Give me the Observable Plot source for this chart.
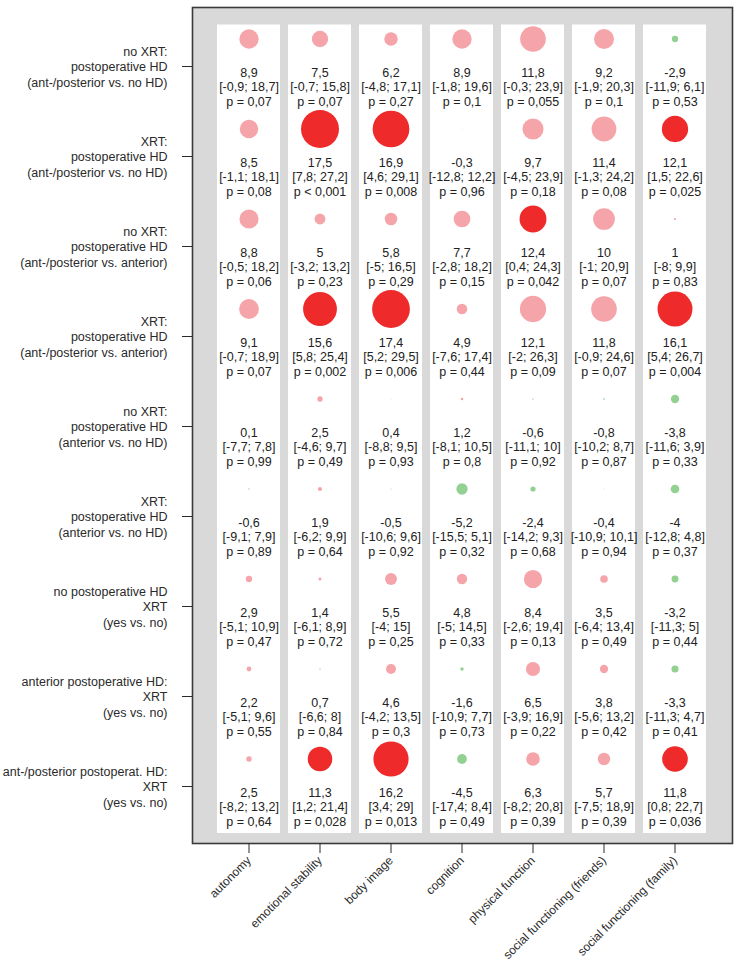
<!DOCTYPE html>
<html>
<head>
<meta charset="utf-8">
<script src="https://cdn.jsdelivr.net/npm/d3@7"></script>
<script src="https://cdn.jsdelivr.net/npm/@observablehq/plot@0.6"></script>
<style>
  html, body { margin: 0; padding: 0; background: #fff; }
</style>
</head>
<body>
<div id="chart"></div>
<script>
// Outcome categories (columns)
const categories = ["autonomy", "emotional stability", "body image", "cognition",
  "physical function", "social functioning (friends)", "social functioning (family)"];

// Comparisons (rows)
const comparisons = [
  "no XRT:\npostoperative HD\n(ant-/posterior vs. no HD)",
  "XRT:\npostoperative HD\n(ant-/posterior vs. no HD)",
  "no XRT:\npostoperative HD\n(ant-/posterior vs. anterior)",
  "XRT:\npostoperative HD\n(ant-/posterior vs. anterior)",
  "no XRT:\npostoperative HD\n(anterior vs. no HD)",
  "XRT:\npostoperative HD\n(anterior vs. no HD)",
  "no postoperative HD\nXRT\n(yes vs. no)",
  "anterior postoperative HD:\nXRT\n(yes vs. no)",
  "ant-/posterior postoperat. HD:\nXRT\n(yes vs. no)"
];

// Effect estimates (one row per comparison, one value per category)
const estimates = [
  [8.9, 7.5, 6.2, 8.9, 11.8, 9.2, -2.9],
  [8.5, 17.5, 16.9, -0.3, 9.7, 11.4, 12.1],
  [8.8, 5, 5.8, 7.7, 12.4, 10, 1],
  [9.1, 15.6, 17.4, 4.9, 12.1, 11.8, 16.1],
  [0.1, 2.5, 0.4, 1.2, -0.6, -0.8, -3.8],
  [-0.6, 1.9, -0.5, -5.2, -2.4, -0.4, -4],
  [2.9, 1.4, 5.5, 4.8, 8.4, 3.5, -3.2],
  [2.2, 0.7, 4.6, -1.6, 6.5, 3.8, -3.3],
  [2.5, 11.3, 16.2, -4.5, 6.3, 5.7, 11.8]
];

// Lower confidence limits
const ciLower = [
  [-0.9, -0.7, -4.8, -1.8, -0.3, -1.9, -11.9],
  [-1.1, 7.8, 4.6, -12.8, -4.5, -1.3, 1.5],
  [-0.5, -3.2, -5, -2.8, 0.4, -1, -8],
  [-0.7, 5.8, 5.2, -7.6, -2, -0.9, 5.4],
  [-7.7, -4.6, -8.8, -8.1, -11.1, -10.2, -11.6],
  [-9.1, -6.2, -10.6, -15.5, -14.2, -10.9, -12.8],
  [-5.1, -6.1, -4, -5, -2.6, -6.4, -11.3],
  [-5.1, -6.6, -4.2, -10.9, -3.9, -5.6, -11.3],
  [-8.2, 1.2, 3.4, -17.4, -8.2, -7.5, 0.8]
];

// Upper confidence limits
const ciUpper = [
  [18.7, 15.8, 17.1, 19.6, 23.9, 20.3, 6.1],
  [18.1, 27.2, 29.1, 12.2, 23.9, 24.2, 22.6],
  [18.2, 13.2, 16.5, 18.2, 24.3, 20.9, 9.9],
  [18.9, 25.4, 29.5, 17.4, 26.3, 24.6, 26.7],
  [7.8, 9.7, 9.5, 10.5, 10, 8.7, 3.9],
  [7.9, 9.9, 9.6, 5.1, 9.3, 10.1, 4.8],
  [10.9, 8.9, 15, 14.5, 19.4, 13.4, 5],
  [9.6, 8, 13.5, 7.7, 16.9, 13.2, 4.7],
  [13.2, 21.4, 29, 8.4, 20.8, 18.9, 22.7]
];

// p-values (as printed)
const pValues = [
  ["0,07", "0,07", "0,27", "0,1", "0,055", "0,1", "0,53"],
  ["0,08", "< 0,001", "0,008", "0,96", "0,18", "0,08", "0,025"],
  ["0,06", "0,23", "0,29", "0,15", "0,042", "0,07", "0,83"],
  ["0,07", "0,002", "0,006", "0,44", "0,09", "0,07", "0,004"],
  ["0,99", "0,49", "0,93", "0,8", "0,92", "0,87", "0,33"],
  ["0,89", "0,64", "0,92", "0,32", "0,68", "0,94", "0,37"],
  ["0,47", "0,72", "0,25", "0,33", "0,13", "0,49", "0,44"],
  ["0,55", "0,84", "0,3", "0,73", "0,22", "0,42", "0,41"],
  ["0,64", "0,028", "0,013", "0,49", "0,39", "0,39", "0,036"]
];

const fmt = v => String(v).replace(".", ",");
const pNum = s => s.startsWith("<") ? 0.0005 : +s.replace(",", ".");

const cells = [];
comparisons.forEach((row, i) => {
  categories.forEach((cat, j) => {
    const v = estimates[i][j];
    const p = pValues[i][j];
    const sig = pNum(p) < 0.05;
    cells.push({
      row, cat, v,
      color: v < 0 ? "#93d193" : (sig ? "#ee2a2a" : "#f5a5a9"),
      l1: fmt(v),
      l2: `[${fmt(ciLower[i][j])}; ${fmt(ciUpper[i][j])}]`,
      l3: p.startsWith("<") ? `p ${p}` : `p = ${p}`
    });
  });
});

const chart = Plot.plot({
  width: 738,
  height: 965,
  marginTop: 7,
  marginBottom: 122,
  marginLeft: 192,
  marginRight: 6,
  style: { fontFamily: "'Liberation Sans', Arial, sans-serif", background: "white", color: "#2a2a2a" },
  x: { type: "band", domain: categories, paddingInner: 0.107, paddingOuter: 0.32, label: null },
  y: { type: "point", domain: comparisons, range: [65, 786], padding: 0, label: null },
  r: { type: "linear", domain: [0, 17.5], range: [0, 19] },
  marks: [
    Plot.frame({ fill: "#d9d9d9", stroke: "#3a3a3a", strokeWidth: 1.6 }),
    Plot.cell(categories, { x: d => d, fill: "white", insetTop: 17.5, insetBottom: 10 }),
    Plot.dot(cells, { x: "cat", y: "row", r: d => Math.abs(d.v), fill: d => d.color, stroke: "none", dy: -27.5 }),
    Plot.text(cells, { x: "cat", y: "row", text: "l1", dy: 6, fontSize: 12.5, fill: "#222" }),
    Plot.text(cells, { x: "cat", y: "row", text: "l2", dy: 20.5, fontSize: 12.5, fill: "#222" }),
    Plot.text(cells, { x: "cat", y: "row", text: "l3", dy: 35, fontSize: 12.5, fill: "#222" }),
    Plot.axisY({ tickSize: 10, tickPadding: 15, fontSize: 12.5, lineHeight: 1.22, label: null }),
    Plot.axisX({ tickSize: 10, tickPadding: 5, tickRotate: -45, fontSize: 12, label: null })
  ]
});
document.getElementById("chart").appendChild(chart);
</script>
</body>
</html>
